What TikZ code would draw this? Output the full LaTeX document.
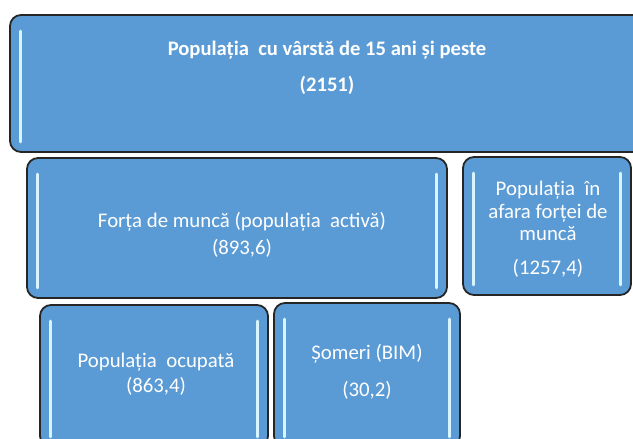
\documentclass[tikz,border=0pt]{standalone}
\usepackage{fontspec}
\setmainfont{Carlito}
\begin{document}
\begin{tikzpicture}[x=1pt,y=-1pt,
  box/.style={draw=black!85, line width=1.8pt, fill=boxblue, rounded corners=11pt, inner sep=0pt},
  hl/.style={draw=hlblue, line width=3pt, line cap=round},
  lbl/.style={text=white, font=\fontsize{20.8}{22.5}\selectfont, align=center, inner sep=0pt},
  toplbl/.style={text=white, font=\bfseries\fontsize{20.6}{22.5}\selectfont, align=center, inner sep=0pt}]
\definecolor{boxblue}{HTML}{5B9BD5}
\definecolor{hlblue}{HTML}{D8F4FF}
\useasboundingbox (0,0) rectangle (633,439);
\clip (0,0) rectangle (633,439);
% boxes
\node[box, minimum width=640pt, minimum height=137pt] (top) at (330,83.5) {};
\node[box, minimum width=420pt, minimum height=140pt] (act) at (237,228) {};
\node[box, minimum width=168pt, minimum height=138pt] (inact) at (547,226) {};
\node[box, minimum width=228pt, minimum height=142pt] (ocup) at (154,376) {};
\node[box, minimum width=186pt, minimum height=144pt] (som) at (367,375) {};
% highlight bars
\foreach \b in {top,act,inact,ocup,som}{
  \draw[hl] ([xshift=11pt,yshift=-17pt]\b.north west) -- ([xshift=11pt,yshift=11pt]\b.south west);
  \draw[hl] ([xshift=-11pt,yshift=-17pt]\b.north east) -- ([xshift=-11pt,yshift=11pt]\b.south east);
}
% labels
\node[toplbl] (t1) at (327,50) {Populația\ \ cu vârstă de 15 ani și peste};
\node[toplbl] (t2) at (327,85) {(2151)};
\node[lbl] (a1) at (242,222) {Forța\ de muncă\ (populația\ \ activă)};
\node[lbl] (a2) at (242,248) {(893,6)};
\node[lbl] (i1) at (548,211) {Populația\ \ în\\afara forței\ de\\muncă};
\node[lbl] (i2) at (548,268) {(1257,4)};
\node[lbl] (o1) at (156,362) {Populația\ \ ocupată};
\node[lbl] (o2) at (156,386) {(863,4)};
\node[lbl] (s1) at (367,354) {Șomeri (BIM)};
\node[lbl] (s2) at (367,390) {(30,2)};
\end{tikzpicture}
\end{document}
